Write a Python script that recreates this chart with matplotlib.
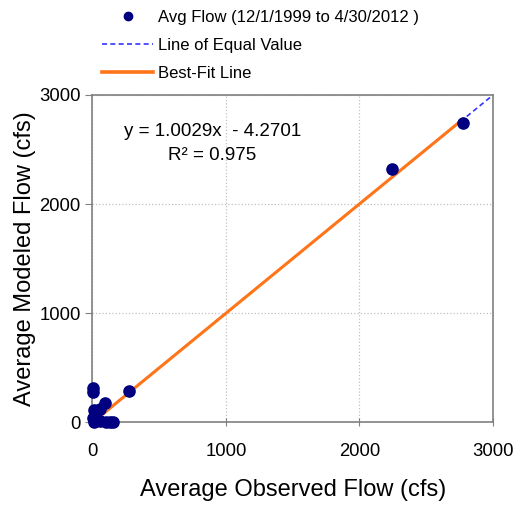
import numpy as np
import matplotlib.pyplot as plt
from matplotlib.lines import Line2D

plt.rcParams["font.family"] = ["Liberation Sans", "DejaVu Sans"]

# ─── DATA ─────────────────────────────────────────────────────────────────────
observed = [5, 8, 277, 95, 60, 10, 20, 5, 30, 60, 100, 130, 155, 10, 2244, 2775]
modeled = [310, 275, 287, 177, 120, 110, 60, 40, 20, 10, 5, 5, 5, 5, 2321, 2746]
slope, intercept = 1.0029, -4.2701
r2 = 0.975
equal_range = [0, 3000]
ticks = [0, 1000, 2000, 3000]

NAVY, BLUE, ORANGE, GRID, SPINE = "#000080", "#3333ff", "#ff7518", "#c0c0c0", "#808080"

fig = plt.figure(figsize=(5.19, 5.08), dpi=100)
ax = fig.add_axes([0.178, 0.169, 0.772, 0.644])

ax.plot(equal_range, equal_range, color=BLUE, ls="--", lw=1.2, dashes=(3, 2), zorder=2)
xf = np.array([min(observed), max(observed)])
ax.plot(xf, slope * xf + intercept, color=ORANGE, lw=2.2, zorder=3)
ax.scatter(observed, modeled, s=65, color=NAVY, zorder=4, clip_on=False)

ax.set_xlim(0, 3000)
ax.set_ylim(0, 3000)
ax.set_xticks(ticks)
ax.set_yticks(ticks)
ax.grid(True, color=GRID, ls=":", lw=0.9)
ax.set_axisbelow(True)
for sp in ax.spines.values():
    sp.set_color(SPINE)
    sp.set_linewidth(1.2)
ax.tick_params(axis="x", direction="inout", length=6, color=SPINE, labelsize=13.3, pad=12)
ax.tick_params(axis="y", direction="out", length=5, color=SPINE, labelsize=13.3)

ax.set_xlabel("Average Observed Flow (cfs)", fontsize=17, labelpad=14)
ax.set_ylabel("Average Modeled Flow (cfs)", fontsize=17, labelpad=2)

ax.text(0.30, 0.852, f"y = {slope:.4f}x  - {abs(intercept):.4f}\nR² = {r2:.3f}",
        transform=ax.transAxes, ha="center", va="center", multialignment="center",
        fontsize=13.5, linespacing=1.5)

handles = [
    Line2D([], [], marker="o", ls="none", color=NAVY, markersize=6),
    Line2D([], [], color=BLUE, ls="--", lw=1.2, dashes=(3, 2)),
    Line2D([], [], color=ORANGE, lw=2.6),
]
labels = ["Avg Flow (12/1/1999 to 4/30/2012 )", "Line of Equal Value", "Best-Fit Line"]
fig.legend(handles, labels, loc="upper left", bbox_to_anchor=(0.167, 1.01), frameon=False,
           fontsize=12, handlelength=3.1, labelspacing=0.78, handletextpad=0.3)

fig.savefig("out.png", dpi=100)
